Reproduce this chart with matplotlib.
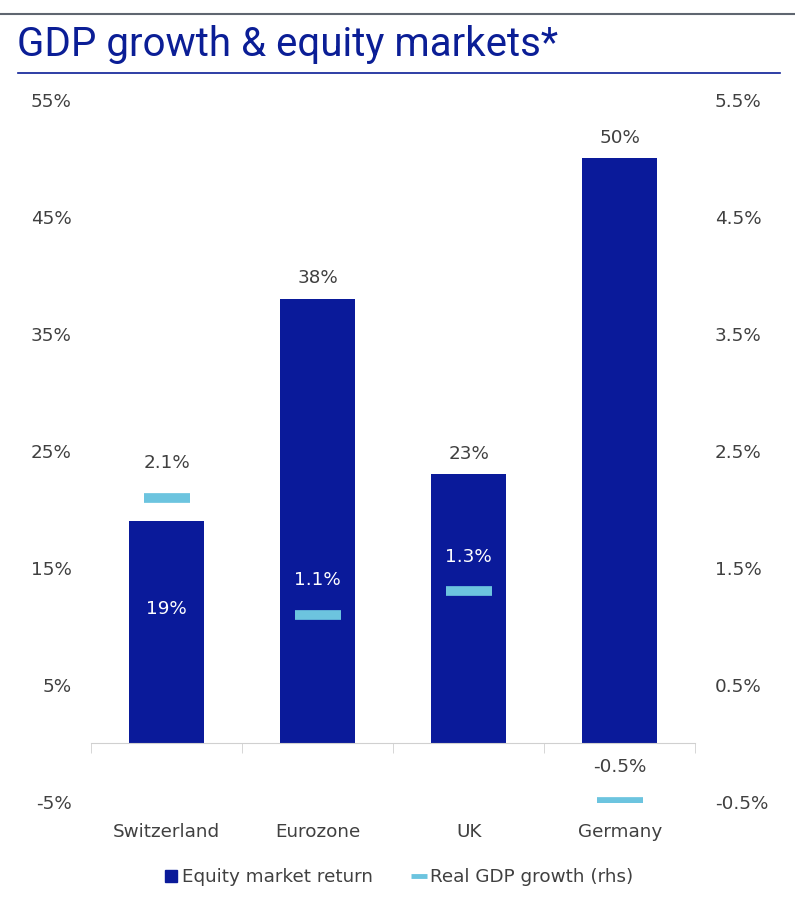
import numpy as np
import matplotlib.pyplot as plt
from matplotlib.lines import Line2D

plt.rcParams['font.family'] = ['DejaVu Sans']

countries = ["Switzerland", "Eurozone", "UK", "Germany"]
equity = [19, 38, 23, 50]          # % equity market return (lhs)
gdp = [2.1, 1.1, 1.3, -0.5]        # % real GDP growth (rhs)
left_ticks = [-5, 5, 15, 25, 35, 45, 55]
right_ticks = [-0.5, 0.5, 1.5, 2.5, 3.5, 4.5, 5.5]

navy = "#0A1A9A"
light = "#6CC4DF"
grey = "#404040"
fs = 13.2

fig = plt.figure(figsize=(7.95, 9), dpi=100)
ax = fig.add_axes([0.1145, 0.1089, 0.760, 0.78])
ax2 = ax.twinx()

x = np.arange(len(countries))
ax.bar(x, equity, width=0.5, color=navy, zorder=2)
ax2.plot(x, gdp, linestyle="none", marker="_", markersize=33, mew=7,
         color=light, zorder=3)

ax.set_ylim(-5, 55)
ax2.set_ylim(-0.5, 5.5)
ax.set_xlim(-0.5, len(countries) - 0.5)
ax.set_yticks(left_ticks)
ax.set_yticklabels([f"{t}%" for t in left_ticks])
ax2.set_yticks(right_ticks)
ax2.set_yticklabels([f"{t}%" for t in right_ticks])

for a in (ax, ax2):
    for s in a.spines.values():
        s.set_visible(False)
    a.tick_params(axis="y", length=0, labelsize=fs, labelcolor=grey, pad=14)

# category axis at zero with separators
ax.spines["bottom"].set_visible(True)
ax.spines["bottom"].set_position(("data", 0))
ax.spines["bottom"].set_color("#d0d0d0")
ax.set_xticks(x)
ax.set_xticklabels(countries)
ax.set_xticks(np.arange(len(countries) + 1) - 0.5, minor=True)
ax.tick_params(axis="x", which="major", length=0, pad=57, labelsize=fs,
               labelcolor=grey)
ax.tick_params(axis="x", which="minor", length=7, color="#d0d0d0", direction="out")

# data labels
for i, (e, g) in enumerate(zip(equity, gdp)):
    if g * 10 > e:
        ax.text(i, e - 7.5, f"{e}%", ha="center", va="center", color="white", fontsize=fs)
    else:
        ax.annotate(f"{e}%", (i, e), xytext=(0, 15), textcoords="offset points",
                    ha="center", va="center", color=grey, fontsize=fs)
    col = "white" if 0 < g * 10 < e else grey
    ax2.annotate(f"{g}%", (i, g), xytext=(0, 25), textcoords="offset points",
                 ha="center", va="center", color=col, fontsize=fs)

# title and rules
fig.add_artist(Line2D([0, 1], [1 - 14 / 900] * 2, color="#5f6670", lw=1.5))
fig.add_artist(Line2D([18 / 795, 780 / 795], [1 - 73 / 900] * 2, color="#0B1E96", lw=1.2))
fig.text(17 / 795, 1 - 44 / 900, "GDP growth & equity markets*", color="#0B1E96",
         fontsize=29, va="center", ha="left", family=["Roboto", "DejaVu Sans"])

handles = [
    Line2D([], [], linestyle="none", marker="s", markersize=9, color=navy),
    Line2D([], [], linestyle="none", marker="_", markersize=11, mew=3.5, color=light),
]
fig.legend(handles, ["Equity market return", "Real GDP growth (rhs)"],
           loc="center", bbox_to_anchor=(0.5, 1 - 877 / 900), ncol=2, frameon=False,
           fontsize=fs, labelcolor=grey, handletextpad=0.1, columnspacing=2.0,
           handlelength=1.0)

plt.savefig("out.png", dpi=100)
